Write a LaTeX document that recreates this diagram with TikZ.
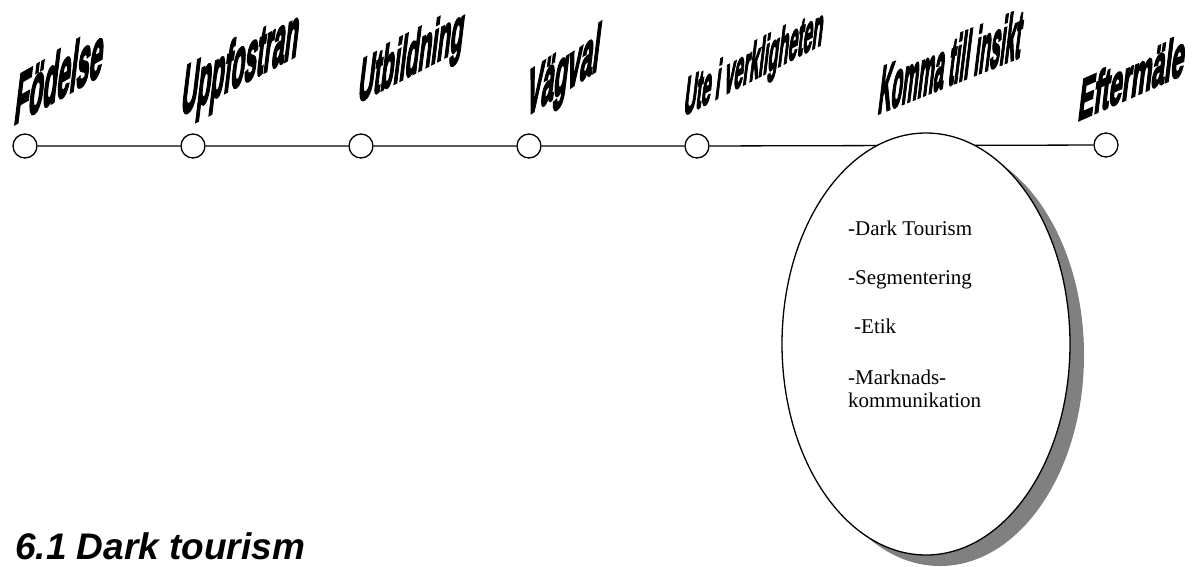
\documentclass[tikz,border=0pt]{standalone}
\usepackage{fontspec}
\setmainfont{Liberation Serif}
\newfontfamily\arialfont{Liberation Sans}
\newfontfamily\wafont{Liberation Sans}[FakeBold=4.5]
\usetikzlibrary{shapes.geometric,shadows}

\tikzset{
  stage/.style={circle, draw, fill=white, minimum size=24pt, inner sep=0pt, line width=1.3pt},
  timeline/.style={line width=1.3pt},
  wordart/.style={anchor=base west, inner sep=0pt, font=\wafont\bfseries\fontsize{20}{20}\selectfont},
  insight/.style={ellipse, draw, fill=white, line width=1.3pt, minimum width=288pt, minimum height=422pt,
    drop shadow={shadow xshift=14pt, shadow yshift=-11pt, fill=black!50, opacity=1}},
  topic/.style={anchor=base west, inner sep=0pt, font=\fontsize{21}{23}\selectfont},
  heading/.style={anchor=base west, inner sep=0pt, text depth=0pt, font=\arialfont\bfseries\itshape\fontsize{37}{37}\selectfont}
}

\begin{document}
\begin{tikzpicture}[x=1pt, y=-1pt]
\useasboundingbox (0,0) rectangle (1193,566);

% life stages along the time line
\node[stage] (c1) at (25,146) {};
\node[stage] (c2) at (193,146) {};
\node[stage] (c3) at (361,146) {};
\node[stage] (c4) at (529,146) {};
\node[stage] (c5) at (697,146) {};
\node[stage] (c7) at (1106,145) {};

\draw[timeline] (c1) -- (c2) (c2) -- (c3) (c3) -- (c4) (c4) -- (c5) (c5) -- (c7);

% the insight stage, drawn over the line
\node[insight] (e) at (926,344) {};

\node[topic] (t1) at (848,235) {-Dark Tourism};
\node[topic] (t2) at (848,284) {-Segmentering};
\node[topic] (t3) at (854,333) {-Etik};
\node[topic] (t4) at (848,384) {-Marknads-};
\node[topic] (t5) at (848,407) {kommunikation};

% slanted stage titles: cm={width, rise, lean, height}
\node[wordart, cm={1.16,0.661,0.43,3.6,(0,0)}] (l1) at (13,125) {Födelse};
\node[wordart, cm={1.09,0.567,0.43,3.6,(0,0)}] (l2) at (180,116) {Uppfostran};
\node[wordart, cm={1.06,0.551,0.38,3.15,(0,0)}] (l3) at (357,103) {Utbildning};
\node[wordart, cm={1.12,0.728,0.41,3.4,(0,0)}] (l4) at (525,117) {Vägval};
\node[wordart, cm={0.83,0.43,0.33,2.75,(0,0)}] (l5) at (683,116) {Ute i verkligheten};
\node[wordart, cm={0.89,0.356,0.41,3.4,(0,0)}] (l6) at (877,114) {Komma till insikt};
\node[wordart, cm={1.16,0.51,0.35,2.95,(0,0)}] (l7) at (1077,121) {Eftermäle};

\node[heading] (h) at (15,559) {6.1 Dark tourism};
\end{tikzpicture}
\end{document}
